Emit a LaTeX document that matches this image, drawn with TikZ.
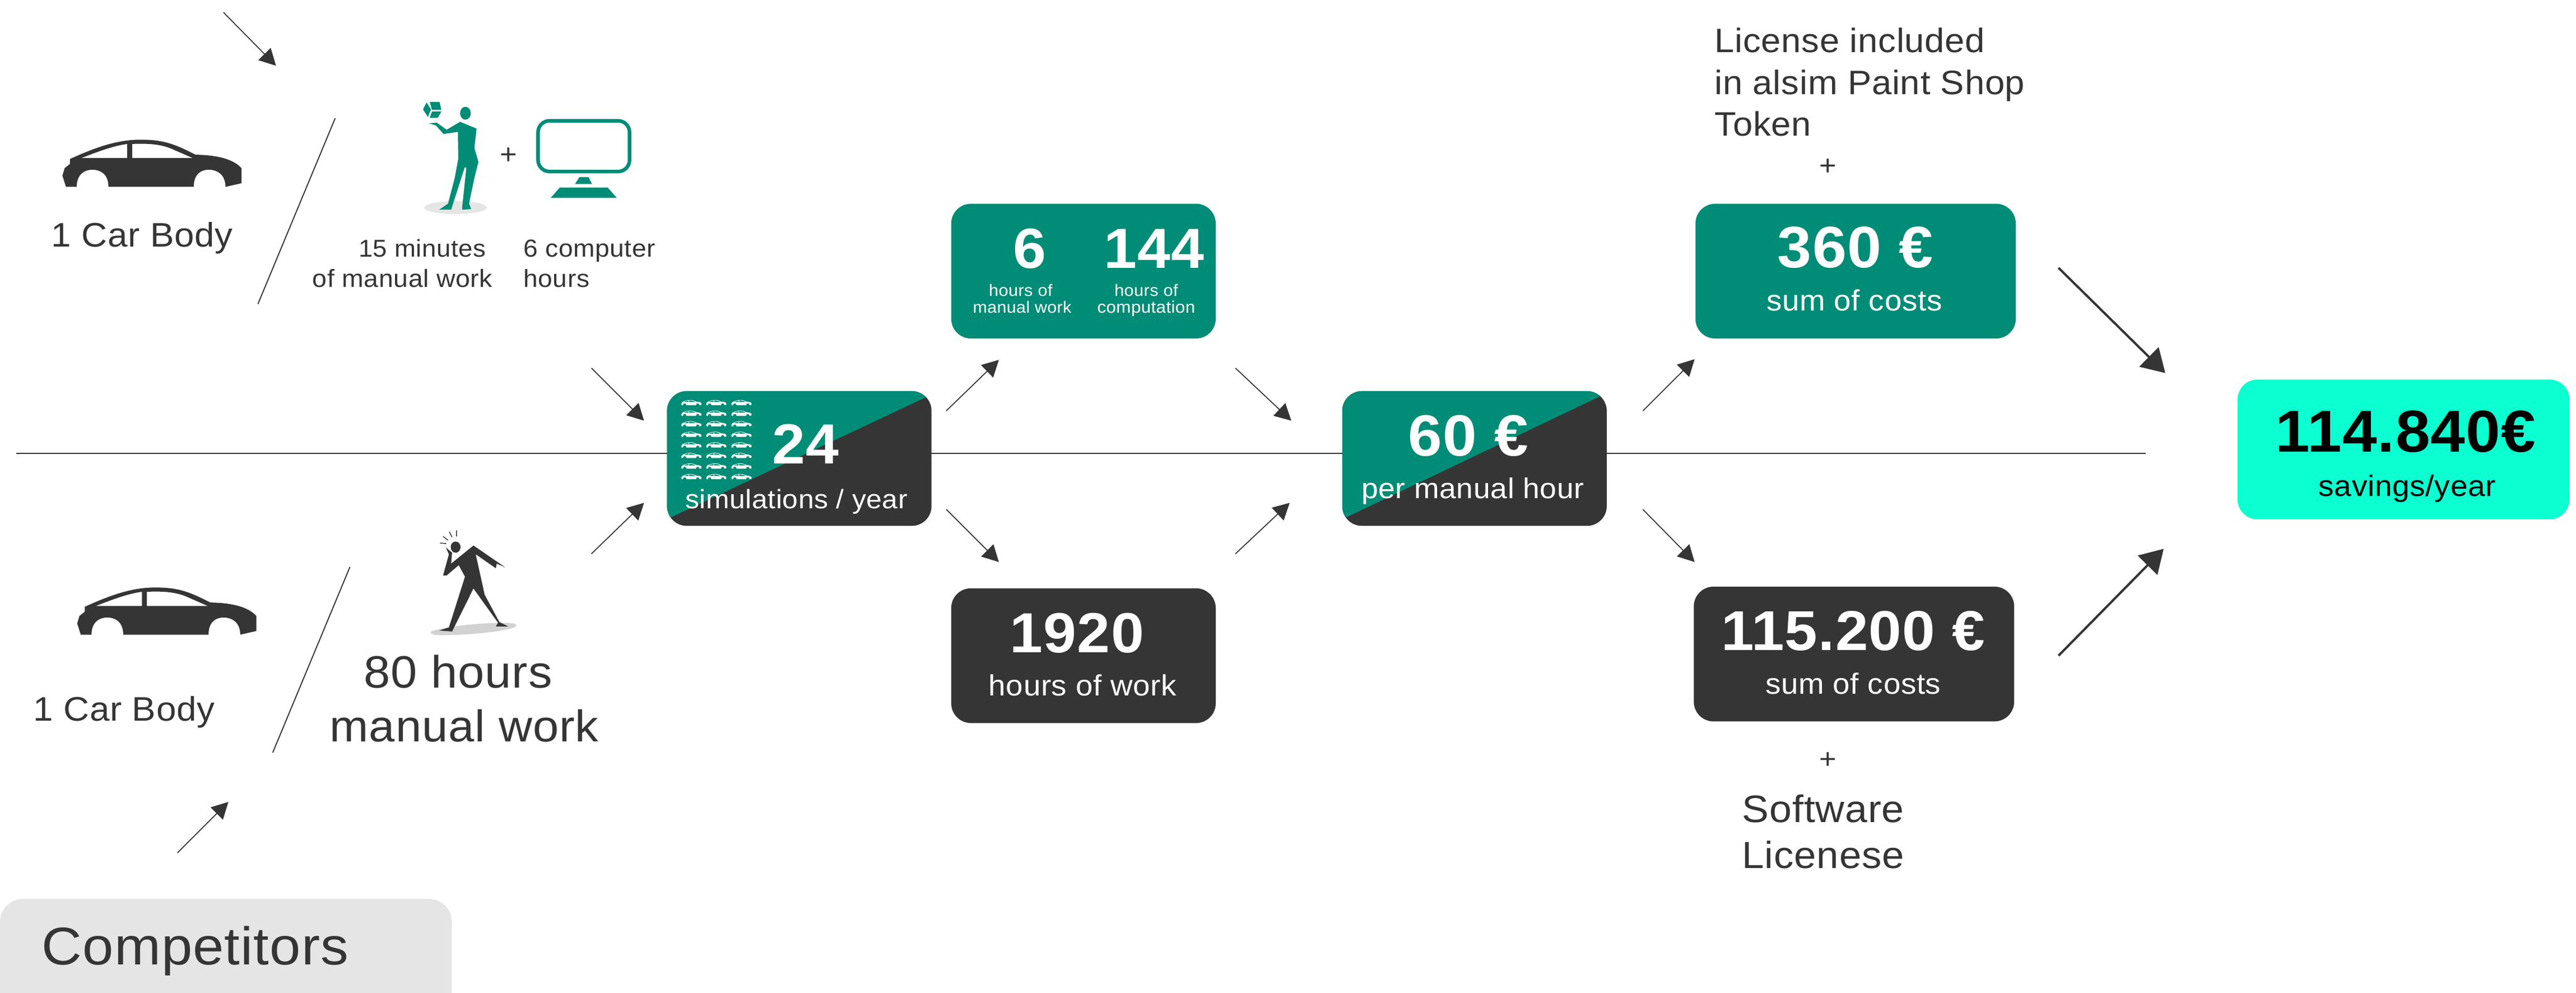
\documentclass[tikz,border=0pt]{standalone}
\usepackage{fontspec}
\setmainfont[FakeStretch=1.05,LetterSpace=1.2]{Liberation Sans}
\usetikzlibrary{arrows.meta}
\definecolor{brandgreen}{HTML}{008C76}
\definecolor{brandlime}{HTML}{0CFFD0}
\definecolor{inkdark}{HTML}{353535}
\definecolor{softgrey}{HTML}{E5E5E5}
\definecolor{shadegrey}{HTML}{D2D2D2}
\newcommand{\fz}[1]{\fontsize{#1mm}{#1mm}\selectfont}
\newcommand{\carfill}{(8,220) -- (0,168) -- (5,133) -- (17,113) -- (17,90)
  .. controls (70,40) and (120,0) .. (175,0)
  .. controls (230,0) and (255,25) .. (298,70)
  .. controls (340,72) and (380,85) .. (401,133) -- (401,203) -- (365,220)
  .. controls (365,160) and (345,140) .. (328,140)
  .. controls (310,140) and (294,160) .. (294,220) -- (103,220)
  .. controls (103,160) and (85,140) .. (67,140)
  .. controls (50,140) and (32,160) .. (32,220) -- cycle
  (42,86) .. controls (80,55) and (115,28) .. (145,20) -- (145,86) -- cycle
  (156,86) -- (156,20) .. controls (190,17) and (220,20) .. (245,43) -- (292,86) -- cycle}
\tikzset{
  txt/.style={inner sep=0pt,outer sep=0pt,anchor=base,text=inkdark},
  wtxt/.style={inner sep=0pt,outer sep=0pt,anchor=base,text=white},
  panel/.style={rectangle,rounded corners=12mm,inner sep=0pt,outer sep=0pt,draw=none},
  thinline/.style={draw=inkdark,line width=0.65mm},
  flow/.style={draw=inkdark,line width=0.6mm,-{Triangle[length=10mm,width=10.5mm,fill=inkdark]}},
  bigflow/.style={draw=inkdark,line width=1.4mm,-{Triangle[length=14mm,width=16.5mm,fill=inkdark]}},
}
\begin{document}
\begin{tikzpicture}[x=1mm,y=-1mm]
\useasboundingbox (0,0) rectangle (1568,604);
% named end points
\coordinate (lineL) at (10,276);
\coordinate (lineR) at (1306,276);
\coordinate (a1s) at (136,7.5);   \coordinate (a1e) at (168,40);
\coordinate (a2s) at (360,224);   \coordinate (a2e) at (392,256);
\coordinate (a3s) at (360,337);   \coordinate (a3e) at (392,306);
\coordinate (a4s) at (108,519);   \coordinate (a4e) at (139,488);
\coordinate (a5s) at (576,250);   \coordinate (a5e) at (608,219);
\coordinate (a6s) at (576,310);   \coordinate (a6e) at (608,342);
\coordinate (a7s) at (752,224);   \coordinate (a7e) at (786,256);
\coordinate (a8s) at (752,337);   \coordinate (a8e) at (785,306);
\coordinate (a9s) at (1000,250);  \coordinate (a9e) at (1031.5,218.6);
\coordinate (a10s) at (1000,310); \coordinate (a10e) at (1031.5,342);
\coordinate (a11s) at (1253,163); \coordinate (a11e) at (1318,227);
\coordinate (a12s) at (1253,399); \coordinate (a12e) at (1317,334);
\coordinate (s1a) at (204,72);    \coordinate (s1b) at (157,185);
\coordinate (s2a) at (213,345);   \coordinate (s2b) at (166,458);
% base line and slashes
\draw[thinline] (lineL) -- (lineR);
\draw[thinline] (s1a) -- (s1b);
\draw[thinline] (s2a) -- (s2b);
% arrows
\foreach \n in {1,...,10} {\draw[flow] (a\n s) -- (a\n e);}
\draw[bigflow] (a11s) -- (a11e);
\draw[bigflow] (a12s) -- (a12e);
% competitors tag
\node[panel,fill=softgrey,rounded corners=14mm,minimum width=275mm,minimum height=70mm] (comp) at (137.5,582) {};
\node[txt,anchor=base west,font=\fz{32.3}] (compT) at (25.5,587) {Competitors};
% split box: simulations
\node[panel,fill=inkdark,minimum width=161mm,minimum height=82mm] (sim) at (486.5,279) {};
\begin{scope}
  \clip[rounded corners=12mm] (406,238) rectangle (567,320);
  \fill[brandgreen] (400,236) -- (570,236) -- (570,238.7) -- (408,315) -- (400,319) -- cycle;
\end{scope}
\foreach \cx in {414.7,429.9,445.2}
  \foreach \ry in {0,...,7}
    \fill[white,even odd rule,shift={(\cx,243.4+6.43*\ry)},x=0.0304mm,y=-0.01455mm] \carfill;
\node[wtxt,font=\bfseries\fz{34.4}] (simN) at (490.5,282.2) {24};
\node[wtxt,font=\fz{16.2}] (simT) at (484.8,309.5) {simulations / year};
% green work box
\node[panel,fill=brandgreen,minimum width=161mm,minimum height=82mm] (green) at (659.5,165) {};
\node[wtxt,font=\bfseries\fz{34.4}] (sixN) at (626.7,163.1) {6};
\node[wtxt,font=\bfseries\fz{34.4}] (hundredN) at (702.5,163.1) {144};
\node[wtxt,font=\fz{10}] (sixA) at (621.3,180.2) {hours of};
\node[wtxt,font=\fz{9.9}] (sixB) at (622.2,190.4) {manual work};
\node[wtxt,font=\fz{10}] (compA) at (697.7,180.2) {hours of};
\node[wtxt,font=\fz{10.2}] (compB) at (697.7,190.4) {computation};
% dark work box
\node[panel,fill=inkdark,minimum width=161mm,minimum height=82mm] (dark) at (659.5,399) {};
\node[wtxt,font=\bfseries\fz{34.4}] (darkN) at (655.6,397.2) {1920};
\node[wtxt,font=\fz{17.8}] (darkT) at (659,423.2) {hours of work};
% split box: rate
\node[panel,fill=inkdark,minimum width=161mm,minimum height=82mm] (rate) at (897.5,279) {};
\begin{scope}
  \clip[rounded corners=12mm] (817,238) rectangle (978,320);
  \fill[brandgreen] (811,236) -- (981,236) -- (981,237.8) -- (818.4,315.3) -- (811,319) -- cycle;
\end{scope}
\node[wtxt,font=\bfseries\fz{35.4}] (rateN) at (893.7,277.4) {60 €};
\node[wtxt,font=\fz{17.4}] (rateT) at (896.5,303.4) {per manual hour};
% cost boxes
\node[panel,fill=brandgreen,minimum width=195mm,minimum height=82mm] (costA) at (1129.5,165) {};
\node[wtxt,font=\bfseries\fz{35.6}] (costAN) at (1129.4,162.9) {360 €};
\node[wtxt,font=\fz{17.8}] (costAT) at (1128.7,189) {sum of costs};
\node[panel,fill=inkdark,minimum width=195mm,minimum height=82mm] (costB) at (1128.5,398) {};
\node[wtxt,font=\bfseries\fz{34.2}] (costBN) at (1128,395.8) {115.200 €};
\node[wtxt,font=\fz{17.8}] (costBT) at (1128,422.2) {sum of costs};
% savings
\node[panel,fill=brandlime,minimum width=202mm,minimum height=85mm] (save) at (1463,273.5) {};
\node[wtxt,text=black,font=\bfseries\fz{36}] (saveN) at (1464.3,275) {114.840€};
\node[wtxt,text=black,font=\fz{17.9}] (saveT) at (1465.3,302) {savings/year};
% upper-row cars and labels
\fill[inkdark,even odd rule,shift={(38,85)},x=0.2719mm,y=-0.1305mm] \carfill;
\fill[inkdark,even odd rule,shift={(47,357.5)},x=0.2719mm,y=-0.1305mm] \carfill;
\node[txt,font=\fz{20.7}] (carA) at (86.5,150.3) {1 Car Body};
\node[txt,font=\fz{20.7}] (carB) at (75.5,438.6) {1 Car Body};
% green worker, zoomed coordinates
\begin{scope}[x=0.2719mm,y=-0.1305mm]
  \fill[softgrey] (1020,968) ellipse[x radius=70,y radius=30];
  \fill[brandgreen] (1042,528) ellipse[x radius=12,y radius=30];
  \fill[brandgreen] (1030,568) -- (1067,600) -- (1062,690) -- (1071,755) -- (1062,830) -- (1050,950) -- (1055,975) -- (1035,978) -- (1035,960) -- (1044,782) -- (1040,782) -- (1010,978) -- (983,978) -- (1003,950) -- (1018,830) -- (1026,740) -- (1025,615) -- (993,625) -- (976,585) -- (960,575) -- (978,572) -- (1000,605) -- cycle;
  \fill[brandgreen] (947,510) -- (955,478) -- (965,510) -- (958,546) -- cycle;
  \fill[brandgreen] (962,475) -- (984,475) -- (988,512) -- (967,512) -- cycle;
  \fill[brandgreen] (967,520) -- (988,520) -- (980,550) -- (962,550) -- cycle;
\end{scope}
% monitor
\draw[brandgreen,line width=2.2mm,rounded corners=7mm] (327.5,73.5) rectangle (383.2,104.4);
\fill[brandgreen] (352.7,107.8) -- (358.2,107.8) -- (360.4,112) -- (350,112) -- cycle;
\fill[brandgreen] (340.8,114.1) -- (369.9,114.1) -- (375.3,120.3) -- (335.3,120.3) -- cycle;
\node[txt,font=\fz{17}] (plusA) at (309.4,99.7) {+};
\node[txt,font=\fz{14.8}] (minA) at (257,156.5) {15 minutes};
\node[txt,font=\fz{15.1}] (minB) at (245,174.6) {of manual work};
\node[txt,anchor=base west,font=\fz{15}] (cpuA) at (318.7,156.5) {6 computer};
\node[txt,anchor=base west,font=\fz{15}] (cpuB) at (318.7,174.6) {hours};
% dark worker, zoomed coordinates
\begin{scope}[shift={(0,306.96)},x=0.2719mm,y=-0.1895mm]
  \fill[shadegrey] (965,408) .. controls (1000,390) and (1080,380) .. (1130,380) .. controls (1150,380) and (1165,385) .. (1150,396) .. controls (1110,412) and (1040,420) .. (985,420) .. controls (970,420) and (960,414) .. (965,408) -- cycle;
  \fill[inkdark] (1020,137) ellipse[x radius=11,y radius=18];
  \fill[inkdark] (998,138) -- (1005,160) -- (992,228) -- (1000,228) -- (1027,195) -- (1041,232) -- (1005,395) -- (983,405) -- (1012,408) -- (1060,270) -- (1115,380) -- (1110,392) -- (1138,392) -- (1118,378) -- (1085,290) -- (1065,160) -- (1110,205) -- (1112,190) -- (1131,202) -- (1060,132) -- (1010,190) -- (1012,155) -- cycle;
  \draw[inkdark,line width=0.5mm] (1022,83) -- (1022,103) (1006,88) -- (1012,105) (992,103) -- (1003,115) (985,124) -- (999,126);
\end{scope}
\node[txt,font=\fz{27.6}] (hrsA) at (278.8,418.7) {80 hours};
\node[txt,font=\fz{27}] (hrsB) at (282.6,451.3) {manual work};
% licence notes
\node[txt,anchor=base west,font=\fz{20.6}] (licA) at (1043.7,32) {License included};
\node[txt,anchor=base west,font=\fz{20.6}] (licB) at (1043.7,57.4) {in alsim Paint Shop};
\node[txt,anchor=base west,font=\fz{20.6}] (licC) at (1043.7,82.8) {Token};
\node[txt,font=\fz{17}] (plusB) at (1112.8,106.5) {+};
\node[txt,font=\fz{17}] (plusC) at (1112.8,467.8) {+};
\node[txt,font=\fz{23.3}] (swA) at (1109.8,500.5) {Software};
\node[txt,font=\fz{23}] (swB) at (1109.8,528.4) {Licenese};
\end{tikzpicture}
\end{document}
